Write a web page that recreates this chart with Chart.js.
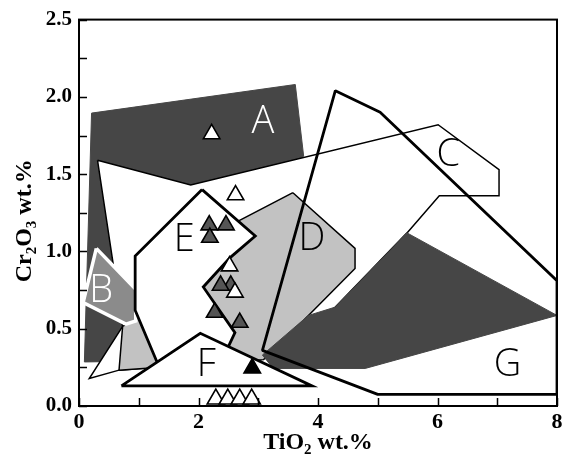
<!DOCTYPE html>
<html>
<head>
<meta charset="utf-8">
<script src="https://cdn.jsdelivr.net/npm/chart.js@4.4.1/dist/chart.umd.min.js"></script>
<style>
  html, body { margin: 0; padding: 0; background: #fff; }
  #wrap { width: 562px; height: 459px; }
</style>
</head>
<body>
<div id="wrap"><canvas id="chart" width="562" height="459"></canvas></div>
<script>
// Compositional fields, [TiO2, Cr2O3] in wt.%
const fieldA = [[0.21, 1.895], [3.62, 2.08], [3.76, 1.616], [2.0, 1.0], [1.0, 0.29], [0.09, 0.285]];
const fieldC = [[0.31, 1.59], [1.87, 1.43], [6.01, 1.82], [7.03, 1.53], [7.03, 1.36], [6.03, 1.36],
                [5.49, 1.12], [4.29, 0.64], [3.05, 0.30], [0.67, 0.232], [0.172, 0.178], [0.73, 0.515]];
const fieldD = [[3.58, 1.38], [4.62, 1.02], [4.62, 0.89], [3.84, 0.586], [3.09, 0.30], [0.67, 0.232],
                [0.73, 0.515], [0.94, 0.56], [1.5, 0.9], [2.68, 1.2]];
const fieldG = [[5.49, 1.12], [8.0, 0.586], [4.79, 0.243], [3.25, 0.243], [3.07, 0.33], [3.84, 0.586], [4.29, 0.64]];
const fieldB = [[0.29, 1.02], [0.95, 0.755], [0.95, 0.55], [0.785, 0.53], [0.07, 0.67]];
const fieldE = [[2.06, 1.40], [2.95, 1.10], [2.53, 0.96], [2.08, 0.77], [2.61, 0.475], [2.5, 0.385],
                [1.9, 0.2], [1.3, 0.29], [0.94, 0.62], [0.94, 0.97]];
const fieldOutline = [[8.0, 0.075], [5.0, 0.075], [3.07, 0.36], [4.29, 2.04], [5.04, 1.90], [8.0, 0.81]];
const fieldF = [[0.71, 0.13], [2.03, 0.47], [3.9, 0.13]];

// Sample analyses
const openTriangles = [[2.22, 1.76], [2.62, 1.365], [2.52, 0.905], [2.61, 0.735]];
const openTrianglesLow = [[2.29, 0.045], [2.49, 0.045], [2.69, 0.045], [2.89, 0.045]];
const greyTriangles = [[2.18, 1.17], [2.46, 1.17], [2.19, 1.09], [2.54, 0.78], [2.37, 0.78], [2.27, 0.605], [2.69, 0.54]];
const blackTriangles = [[2.9, 0.245]];

// Field letters
const fieldNames = ['A', 'B', 'C', 'D', 'E', 'F', 'G'];
const fieldNameX = [3.08, 0.37, 6.18, 3.90, 1.76, 2.13, 7.17];
const fieldNameY = [1.853, 0.763, 1.64, 1.096, 1.09, 0.28, 0.28];
const fieldNameColor = ['#fff', '#fff', '#000', '#000', '#000', '#000', '#000'];

const xTickValues = [0, 2, 4, 6, 8];
const xTickLabels = ['0', '2', '4', '6', '8'];
const yTickLabels = ['0.0', '0.5', '1.0', '1.5', '2.0', '2.5'];

const toPts = a => a.map(p => ({ x: p[0], y: p[1] }));

function polygon(pts, fillColor, lineColor, lineWidth, join) {
  return {
    data: toPts(pts.concat([pts[0]])),
    showLine: true,
    fill: fillColor ? 'shape' : false,
    backgroundColor: fillColor || 'transparent',
    borderColor: lineColor,
    borderWidth: lineWidth,
    borderJoinStyle: join || 'miter',
    pointRadius: 0,
    pointHoverRadius: 0,
    tension: 0
  };
}

function markers(pts, fillColor, radius) {
  return {
    data: toPts(pts),
    showLine: false,
    pointStyle: 'triangle',
    pointRadius: radius,
    pointHoverRadius: radius,
    backgroundColor: fillColor,
    borderColor: '#000',
    borderWidth: 1.6
  };
}

// bottom layer first
const layers = [
  polygon(fieldA, '#464646', '#464646', 1),
  polygon(fieldC, '#ffffff', '#000', 1.5),
  polygon(fieldD, '#c2c2c2', '#000', 1.5),
  polygon(fieldG, '#464646', '#464646', 1),
  polygon(fieldB, '#8b8b8b', '#ffffff', 3.5),
  polygon(fieldE, '#ffffff', '#000', 2.8),
  polygon(fieldOutline, null, '#000', 2.8, 'bevel'),
  polygon(fieldF, '#ffffff', '#000', 2.8),
  markers(greyTriangles, '#555555', 9.5),
  markers(openTriangles, '#ffffff', 9.5),
  markers(openTrianglesLow, '#ffffff', 10),
  markers(blackTriangles, '#000000', 9.5)
];
layers.forEach((ds, i) => { ds.order = layers.length - i; });

const serif = '"Liberation Serif", "Times New Roman", serif';

// axis titles with subscripts, inward ticks, x labels, frame and field letters
const decorations = {
  id: 'decorations',
  afterDatasetsDraw(chart) {
    const ctx = chart.ctx;
    const xs = chart.scales.x, ys = chart.scales.y;
    ctx.save();
    ctx.font = '300 38px "Open Sans", sans-serif';
    ctx.textAlign = 'center';
    ctx.textBaseline = 'alphabetic';
    fieldNames.forEach((name, i) => {
      ctx.fillStyle = fieldNameColor[i];
      ctx.fillText(name, xs.getPixelForValue(fieldNameX[i]), ys.getPixelForValue(fieldNameY[i]) + 13.5);
    });
    ctx.restore();
  },
  afterDraw(chart) {
    const ctx = chart.ctx;
    const a = chart.chartArea;
    const xs = chart.scales.x, ys = chart.scales.y;
    ctx.save();
    ctx.strokeStyle = '#000';
    ctx.lineWidth = 2;
    ctx.strokeRect(a.left, a.top, a.right - a.left, a.bottom - a.top);
    ctx.lineWidth = 1.5;
    ctx.beginPath();
    for (let v = 0; v <= 8; v++) {
      const px = Math.round(xs.getPixelForValue(v)) + 0.5;
      ctx.moveTo(px, a.bottom);
      ctx.lineTo(px, a.bottom - 8);
    }
    for (let k = 0; k <= 10; k++) {
      const py = Math.round(ys.getPixelForValue(k * 0.25)) + 0.5;
      ctx.moveTo(a.left, py);
      ctx.lineTo(a.left + 8, py);
    }
    ctx.stroke();

    ctx.fillStyle = '#000';
    ctx.font = 'bold 22px ' + serif;
    ctx.textAlign = 'center';
    ctx.textBaseline = 'top';
    xTickValues.forEach((v, i) => {
      ctx.fillText(xTickLabels[i], xs.getPixelForValue(v), a.bottom + 5);
    });

    ctx.textBaseline = 'alphabetic';
    const parts = (items) => items.map(([t, sub]) => {
      ctx.font = sub ? 'bold 15px ' + serif : 'bold 24px ' + serif;
      return { t, sub, w: ctx.measureText(t).width };
    });
    const drawParts = (list, cx, base) => {
      const total = list.reduce((s, p) => s + p.w, 0);
      let x = cx - total / 2;
      ctx.textAlign = 'left';
      list.forEach(p => {
        ctx.font = p.sub ? 'bold 15px ' + serif : 'bold 24px ' + serif;
        ctx.fillText(p.t, x, p.sub ? base + 5 : base);
        x += p.w;
      });
    };
    drawParts(parts([['TiO', false], ['2', true], [' wt.%', false]]), (a.left + a.right) / 2, 449);
    ctx.save();
    ctx.translate(31, (a.top + a.bottom) / 2 + 8);
    ctx.rotate(-Math.PI / 2);
    drawParts(parts([['Cr', false], ['2', true], ['O', false], ['3', true], [' wt.%', false]]), 0, 0);
    ctx.restore();
    ctx.restore();
  }
};

new Chart(document.getElementById('chart'), {
  type: 'scatter',
  data: { datasets: layers },
  options: {
    responsive: false,
    animation: false,
    events: [],
    layout: { autoPadding: false, padding: { top: 17, right: 5, left: 0, bottom: 0 } },
    plugins: {
      legend: { display: false },
      tooltip: { enabled: false },
      filler: { drawTime: 'beforeDatasetDraw' }
    },
    scales: {
      x: {
        type: 'linear', min: 0, max: 8,
        grid: { display: false, drawTicks: false },
        border: { display: false },
        afterFit: s => { s.height = 53; },
        ticks: { display: false, stepSize: 1 }
      },
      y: {
        type: 'linear', min: 0, max: 2.5,
        grid: { display: false, drawTicks: false },
        border: { display: false },
        afterFit: s => { s.width = 79; },
        ticks: {
          stepSize: 0.25, autoSkip: false, padding: 7, color: '#000',
          font: { family: serif, size: 21, weight: 'bold' },
          callback: (v, i) => (i % 2 === 0 ? yTickLabels[i / 2] : '')
        }
      }
    }
  },
  plugins: [decorations]
});
</script>
</body>
</html>
